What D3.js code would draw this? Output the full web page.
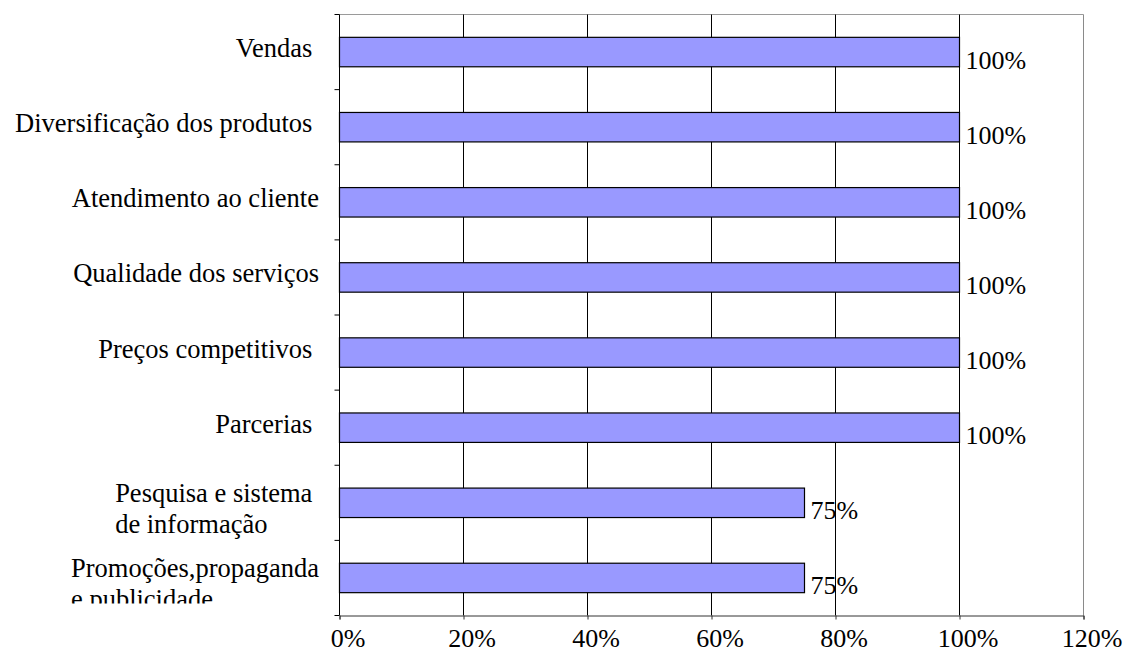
<!DOCTYPE html>
<html>
<head>
<meta charset="utf-8">
<script src="https://cdn.jsdelivr.net/npm/d3@7"></script>
<style>
  html, body { margin: 0; padding: 0; background: #fff; }
  svg { display: block; }
  text { font-family: "Liberation Serif", "Times New Roman", serif; fill: #000; white-space: pre; }
</style>
</head>
<body>
<svg id="chart" width="1128" height="652"></svg>
<script>
// Categories (top to bottom); "\n" splits a label over two lines
const categories = [
  "Vendas ",
  "Diversificação dos produtos ",
  "Atendimento ao cliente",
  "Qualidade dos serviços",
  "Preços competitivos ",
  "Parcerias ",
  "Pesquisa e sistema \nde informação",
  "Promoções,propaganda\ne publicidade"
];
const values = [100, 100, 100, 100, 100, 100, 75, 75];
const xTicks = [0, 20, 40, 60, 80, 100, 120];
const tickLabels = ["0%", "20%", "40%", "60%", "80%", "100%", "120%"];

const svg = d3.select("#chart");
const plot = { left: 339.5, right: 1083.5, top: 14.5, bottom: 615.5 };

const x = d3.scaleLinear().domain([0, 120]).range([plot.left, plot.right]);
const y = d3.scaleBand()
  .domain(categories)
  .range([plot.top, plot.bottom])
  .paddingInner(0.608)
  .paddingOuter(0.304);

// plot frame: light top and right edges
svg.append("line")
  .attr("x1", plot.left).attr("x2", plot.right)
  .attr("y1", plot.top).attr("y2", plot.top)
  .attr("stroke", "#9a9a9a");
svg.append("line")
  .attr("x1", plot.right).attr("x2", plot.right)
  .attr("y1", plot.top).attr("y2", plot.bottom)
  .attr("stroke", "#8a8a8a");

// vertical gridlines
svg.append("g")
  .selectAll("line")
  .data(xTicks.filter(d => d > 0 && d < 120))
  .join("line")
  .attr("x1", d => x(d)).attr("x2", d => x(d))
  .attr("y1", plot.top).attr("y2", plot.bottom)
  .attr("stroke", "#000");

// bars
svg.append("g")
  .selectAll("rect")
  .data(categories)
  .join("rect")
  .attr("x", x(0))
  .attr("y", d => y(d))
  .attr("width", (d, i) => x(values[i]) - x(0))
  .attr("height", y.bandwidth())
  .attr("fill", "#9999ff")
  .attr("stroke", "#000")
  .attr("stroke-width", 1.2);

// value labels
svg.append("g")
  .selectAll("text")
  .data(categories)
  .join("text")
  .attr("x", (d, i) => x(values[i]) + 6)
  .attr("y", d => y(d) + y.bandwidth() / 2 + 16.5)
  .attr("font-size", 26)
  .text((d, i) => values[i] + "%");

// bottom axis
const xAxis = d3.axisBottom(x)
  .tickValues(xTicks)
  .tickFormat((d, i) => tickLabels[i])
  .tickSize(4)
  .tickPadding(0);
const gx = svg.append("g")
  .attr("transform", `translate(0,${plot.bottom})`)
  .call(xAxis)
  .attr("font-family", null)
  .attr("font-size", null);
gx.select(".domain").attr("stroke", "#333");
gx.selectAll(".tick line").attr("stroke", "#333");
gx.selectAll(".tick text")
  .attr("font-size", 26)
  .attr("fill", "#000")
  .attr("dy", null)
  .attr("y", 31)
  .attr("dx", 8);

// left axis: category boundary ticks
const boundaries = d3.range(categories.length + 1);
const step = y.step();
svg.append("line")
  .attr("x1", plot.left).attr("x2", plot.left)
  .attr("y1", plot.top).attr("y2", plot.bottom)
  .attr("stroke", "#000");
svg.append("g")
  .selectAll("line")
  .data(boundaries)
  .join("line")
  .attr("x1", plot.left - 5).attr("x2", plot.left)
  .attr("y1", d => plot.top + d * step)
  .attr("y2", d => plot.top + d * step)
  .attr("stroke", "#000");

// category labels (label area is clipped at its bottom edge)
svg.append("clipPath").attr("id", "labelClip")
  .append("rect").attr("x", 0).attr("y", 0)
  .attr("width", plot.left - 6).attr("height", 603.5);

const labelEnd = 319;
const labels = svg.append("g").attr("clip-path", "url(#labelClip)");
categories.forEach(cat => {
  const lines = cat.split("\n");
  const cy = y(cat) + y.bandwidth() / 2;
  const t = labels.append("text").attr("font-size", 26.5);
  if (lines.length === 1) {
    t.attr("x", labelEnd).attr("y", cy + 5)
      .attr("text-anchor", "end").text(lines[0]);
  } else {
    const spans = t.selectAll("tspan").data(lines).join("tspan")
      .attr("y", (d, i) => cy - 1 + i * 31)
      .text(d => d);
    const w = d3.max(spans.nodes(), n => n.getComputedTextLength());
    spans.attr("x", labelEnd - w);
  }
});
</script>
</body>
</html>
